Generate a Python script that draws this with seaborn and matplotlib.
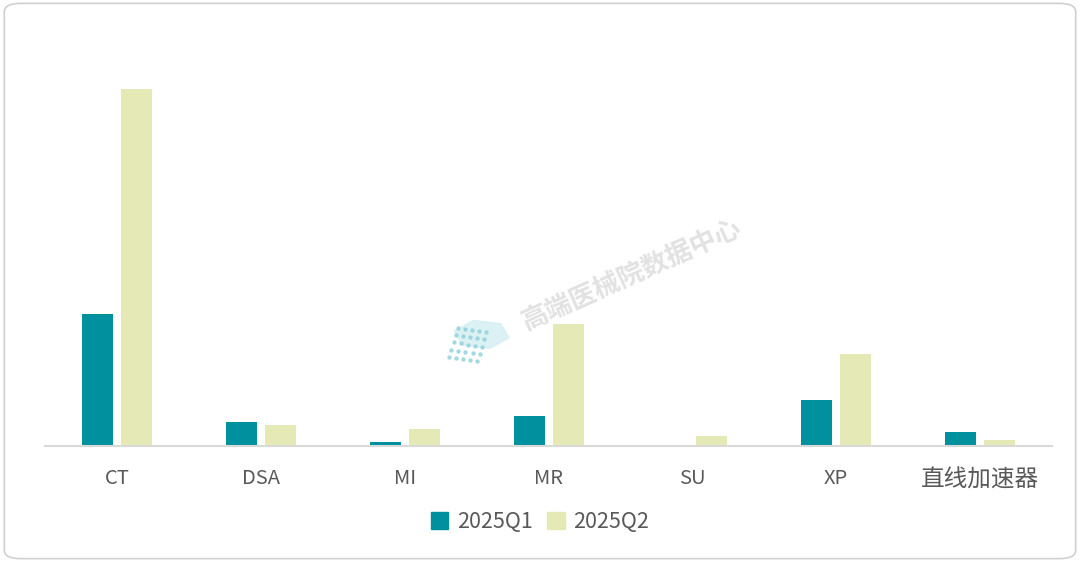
import numpy as np
import pandas as pd
import matplotlib.pyplot as plt
import seaborn as sns
from matplotlib.patches import FancyBboxPatch, RegularPolygon

# values (no y axis shown, relative units)
categories = ['CT', 'DSA', 'MI', 'MR', 'SU', 'XP', '直线加速器']
q1 = [132, 24, 4, 30, 0, 46, 14]
q2 = [357, 21, 17, 122, 10, 92, 6]
series = ['2025Q1', '2025Q2']

df = pd.DataFrame({
    'cat': categories * 2,
    'val': q1 + q2,
    'q': [series[0]] * len(categories) + [series[1]] * len(categories),
})

sns.set_style('white')
plt.rcParams['font.family'] = ['Noto Sans CJK SC', 'DejaVu Sans']

fig = plt.figure(figsize=(10.8, 5.62), dpi=100)
ax = fig.add_axes([0.042, 0.206, 0.932, 0.758])
ax.patch.set_alpha(0)
ax.set_zorder(1)

sns.barplot(data=df, x='cat', y='val', hue='q', ax=ax,
            palette=['#00909E', '#E4E9B6'], width=0.54, gap=0.2,
            saturation=1, edgecolor='none', legend=False)

ax.set_ylim(0, 426)
ax.set_xlim(-0.5, 6.5)
ax.set_xlabel('')
ax.set_ylabel('')
ax.set_yticks([])
for s in ['top', 'right', 'left']:
    ax.spines[s].set_visible(False)
ax.spines['bottom'].set_color('#D9D9D9')
ax.spines['bottom'].set_linewidth(1.5)
ax.tick_params(axis='x', length=0, pad=16, labelsize=14.5, labelcolor='#595959')
for lab in ax.get_xticklabels():
    if not lab.get_text().isascii():
        lab.set_fontsize(17)

# legend centred on the figure, below the axis
handles = [plt.Rectangle((0, 0), 1, 1, color=c) for c in ['#00909E', '#E4E9B6']]
leg = fig.legend(handles, series, loc='center', bbox_to_anchor=(0.5, 0.071), ncol=2,
                 frameon=False, fontsize=15.5, handlelength=0.8, handleheight=0.8,
                 handletextpad=0.4, columnspacing=0.7)
for t in leg.get_texts():
    t.set_color('#595959')

# watermark
fig.text(0.585, 0.51, '高端医械院数据中心', rotation=24, fontsize=19, color='#E2E2E2',
         ha='center', va='center', fontweight='bold', zorder=0)
fig.patches.append(RegularPolygon((0.446, 0.405), 6, radius=0.026, orientation=0.3,
                                  transform=fig.transFigure, color='#D3EEF2',
                                  alpha=0.8, zorder=0))
dx, dy = np.meshgrid(np.arange(5), np.arange(5))
fig.add_artist(plt.Line2D(0.416 + dx.ravel() * 0.0065 + dy.ravel() * 0.002,
                          0.365 + dy.ravel() * 0.013 - dx.ravel() * 0.002,
                          transform=fig.transFigure, linestyle='none', marker='o',
                          markersize=2.2, color='#8FD0DC', alpha=0.7, zorder=0.5))

# rounded border around the whole card
fig.patches.append(FancyBboxPatch((0.004, 0.006), 0.992, 0.988,
                                  boxstyle='round,pad=0,rounding_size=0.015',
                                  transform=fig.transFigure, fill=False,
                                  edgecolor='#D0D0D0', linewidth=1.2))

plt.savefig('out.png', dpi=100)
